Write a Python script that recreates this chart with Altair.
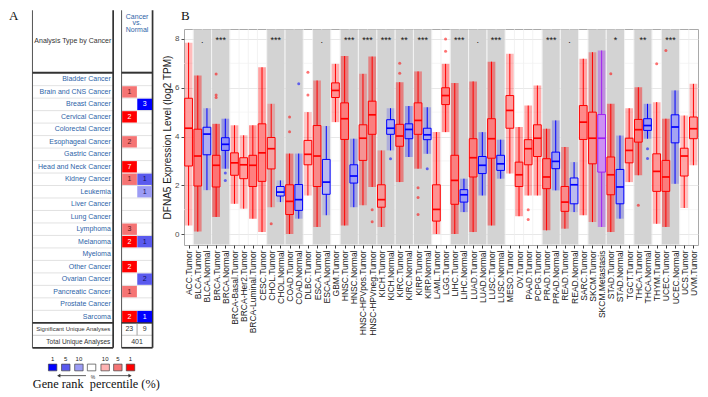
import altair as alt
import pandas as pd

# ======================= Panel A data (Oncomine summary) =======================
cancer_types = [
    "Bladder Cancer", "Brain and CNS Cancer", "Breast Cancer", "Cervical Cancer",
    "Colorectal Cancer", "Esophageal Cancer", "Gastric Cancer", "Head and Neck Cancer",
    "Kidney Cancer", "Leukemia", "Liver Cancer", "Lung Cancer", "Lymphoma", "Melanoma",
    "Myeloma", "Other Cancer", "Ovarian Cancer", "Pancreatic Cancer", "Prostate Cancer",
    "Sarcoma",
]
up_counts = [0, 1, 0, 2, 0, 2, 0, 7, 1, 0, 0, 0, 3, 2, 0, 2, 0, 1, 0, 2]
up_pct = [0, 5, 0, 1, 0, 5, 0, 1, 5, 0, 0, 0, 5, 1, 0, 1, 0, 5, 0, 1]
down_counts = [0, 0, 3, 0, 0, 0, 0, 0, 1, 1, 0, 0, 0, 1, 0, 0, 2, 0, 0, 1]
down_pct = [0, 0, 1, 0, 0, 0, 0, 0, 5, 10, 0, 0, 0, 5, 0, 0, 5, 0, 0, 1]
significant = [23, 9]
total_analyses = 401
legend_labels = ["1", "5", "10", "", "10", "5", "1"]
legend_keys = ["down-1", "down-5", "down-10", "none", "up-10", "up-5", "up-1"]

# ======================= Panel B data (TIMER DFNA5) =======================
groups = [
    "ACC.Tumor", "BLCA.Tumor", "BLCA.Normal", "BRCA.Tumor", "BRCA.Normal",
    "BRCA-Basal.Tumor", "BRCA-Her2.Tumor", "BRCA-Luminal.Tumor", "CESC.Tumor",
    "CHOL.Tumor", "CHOL.Normal", "COAD.Tumor", "COAD.Normal", "DLBC.Tumor",
    "ESCA.Tumor", "ESCA.Normal", "GBM.Tumor", "HNSC.Tumor", "HNSC.Normal",
    "HNSC-HPVpos.Tumor", "HNSC-HPVneg.Tumor", "KICH.Tumor", "KICH.Normal",
    "KIRC.Tumor", "KIRC.Normal", "KIRP.Tumor", "KIRP.Normal", "LAML.Tumor",
    "LGG.Tumor", "LIHC.Tumor", "LIHC.Normal", "LUAD.Tumor", "LUAD.Normal",
    "LUSC.Tumor", "LUSC.Normal", "MESO.Tumor", "OV.Tumor", "PAAD.Tumor",
    "PCPG.Tumor", "PRAD.Tumor", "PRAD.Normal", "READ.Tumor", "READ.Normal",
    "SARC.Tumor", "SKCM.Tumor", "SKCM.Metastasis", "STAD.Tumor", "STAD.Normal",
    "TGCT.Tumor", "THCA.Tumor", "THCA.Normal", "THYM.Tumor", "UCEC.Tumor",
    "UCEC.Normal", "UCS.Tumor", "UVM.Tumor",
]
whisker_low = [0.35, 0.1, 1.8, 0.7, 2.68, 1.24, 1.04, 0.63, 0.08, 1.1, 1.31, 0.0, 0.63, 1.58,
               0.29, 0.77, 4.59, 0.35, 1.1, 1.18, 1.93, 0.29, 3.43, 2.13, 3.16, 2.68, 3.29,
               0.0, 4.18, 0.0, 0.9, 0.08, 1.58, 0.35, 2.27, 2.48, 0.73, 1.58, 1.58, 0.15,
               1.79, 0.22, 0.9, 0.77, 0.49, 0.29, 0.08, 0.63, 2.13, 2.41, 3.91, 0.42, 0.29,
               2.06, 1.07, 2.82]
q1 = [2.79, 1.97, 3.25, 1.93, 3.43, 2.41, 2.27, 1.95, 2.16, 2.67, 1.56, 0.8, 0.97, 2.84,
      1.95, 1.63, 5.6, 3.88, 2.09, 3.02, 4.09, 1.1, 4.09, 3.6, 3.91, 4.09, 3.87, 0.53,
      5.31, 1.22, 1.31, 2.34, 2.48, 3.11, 2.61, 4.34, 1.95, 2.84, 3.18, 1.86, 2.68, 0.93,
      1.24, 3.88, 2.88, 2.54, 1.61, 1.24, 2.92, 3.77, 4.25, 1.75, 1.75, 3.74, 2.38, 3.91]
median = [4.34, 3.2, 4.1, 2.82, 3.68, 2.92, 2.84, 2.82, 3.33, 3.5, 1.72, 1.34, 1.41, 3.27,
          3.2, 2.13, 5.89, 4.73, 2.38, 3.93, 4.89, 1.41, 4.34, 4.02, 4.29, 4.66, 4.07, 1.01,
          5.68, 2.2, 1.61, 3.13, 2.82, 3.91, 2.88, 5.07, 2.43, 3.5, 3.93, 2.34, 2.98, 1.31,
          2.02, 4.59, 3.93, 3.93, 2.43, 1.93, 3.43, 4.28, 4.45, 2.57, 2.34, 4.39, 3.2, 4.32]
q3 = [5.57, 4.3, 4.38, 3.23, 3.95, 3.33, 3.13, 3.23, 4.52, 3.96, 1.95, 2.02, 2.03, 3.84,
      4.45, 3.06, 6.2, 5.38, 2.84, 4.48, 5.45, 2.02, 4.69, 4.5, 4.52, 5.38, 4.34, 2.02,
      6.0, 3.23, 1.82, 3.91, 3.18, 4.73, 3.23, 5.68, 2.95, 3.87, 4.48, 3.09, 3.36, 1.95,
      2.3, 5.27, 5.0, 4.9, 3.16, 2.65, 3.93, 4.7, 4.73, 3.29, 3.02, 4.89, 3.52, 4.8]
whisker_high = [7.85, 6.5, 5.16, 4.52, 4.73, 4.46, 4.05, 4.46, 6.84, 5.34, 2.2, 3.3, 3.3, 5.0,
                6.3, 4.43, 6.98, 7.3, 3.91, 6.57, 7.28, 3.43, 5.16, 6.23, 5.25, 6.67, 5.2,
                4.18, 6.98, 6.19, 2.27, 6.26, 4.18, 7.07, 3.87, 7.39, 4.39, 5.27, 6.09, 4.32,
                4.66, 3.57, 2.95, 7.19, 7.46, 7.53, 5.34, 4.04, 5.16, 6.02, 5.34, 5.41, 4.73,
                5.89, 4.86, 6.16]
n_samples = [79, 408, 19, 1093, 112, 191, 82, 566, 304, 36, 9, 457, 41, 48, 184, 11, 153,
             520, 44, 97, 421, 66, 25, 533, 72, 290, 32, 173, 516, 371, 50, 515, 59, 501,
             51, 87, 303, 178, 179, 497, 52, 166, 10, 259, 103, 368, 415, 35, 150, 501, 59,
             120, 545, 35, 57, 80]
outlier_idx = [3, 3, 3, 4, 4, 9, 11, 11, 12, 13, 13, 20, 20, 22, 23, 23, 25, 25, 25, 26,
               28, 28, 37, 37, 46, 49, 50, 50, 51, 52]
outlier_val = [6.56, 5.7, 5.6, 2.2, 2.5, 0.42, 4.8, 4.2, 6.16, 6.64, 5.7, 0.5, 1.0, 3.09,
               7.0, 6.6, 0.8, 1.5, 1.9, 2.68, 8.0, 7.5, 0.6, 1.0, 6.57, 1.18, 3.1, 3.5,
               6.98, 7.53]
pair_start = [1, 3, 9, 11, 14, 17, 19, 21, 23, 25, 29, 31, 33, 39, 41, 44, 46, 49, 52]
pair_sig = [".", "***", "***", "", ".", "***", "***", "***", "**", "***", "***", ".", "***",
            "***", ".", "", "*", "**", "***"]
minor_grid = [1, 3, 5, 7]
major_ticks = [0, 2, 4, 6, 8]
star_level = 7.97

# ======================= styling constants =======================
SERIF = "Liberation Serif, Times New Roman, serif"
SANS = "Liberation Sans, Arial, Helvetica, sans-serif"
NARROW = "Liberation Sans Narrow, Liberation Sans, Arial, sans-serif"
BLUE_TXT = "#2E64A8"
legend_colors = ["#0000FF", "#5A5AEE", "#9C9CF5", "#FFFFFF", "#FFB3B3", "#F57474", "#FF0000"]

# ======================= Panel A =======================
# panel A is drawn in reference-pixel layout units; its plot origin is aligned with
# panel B's plot top, so the top part lies above the origin
WA, HA = 152, 362
xsA = alt.Scale(domain=[4, 166], nice=False, zero=False)
ysA = alt.Scale(domain=[20, 397], nice=False, zero=False, reverse=True)


def XA(f):
    return alt.X(f"{f}:Q", scale=xsA, axis=None)


def YA(f):
    return alt.Y(f"{f}:Q", scale=ysA, axis=None)


L0, L1 = 29, 115
R0, R1 = 124, 157
ROW0, ROWH = 66, 13
nrows = len(cancer_types)
ROWEND = ROW0 + ROWH * nrows
SIGY = ROWEND + ROWH
BOT = SIGY + ROWH
SPLIT = (R0 + R1) / 2

rules = []


def add_rule(x, x2, y, y2, w, c):
    rules.append(dict(x=x, x2=x2, y=y, y2=y2, w=w, c=c))


for a, b in [(L0, L1), (R0, R1)]:
    for k in range(1, nrows):
        add_rule(a, b, ROW0 + ROWH * k, ROW0 + ROWH * k, 0.7, "#d6d6d6")
    add_rule(a, b, SIGY, SIGY, 0.8, "#bdbdbd")
    add_rule(a, a, 0.5, BOT, 1.0, "#555555")
    add_rule(b, b, 0.5, BOT, 1.7, "#333333")
    add_rule(a, b, BOT, BOT, 1.7, "#333333")
    add_rule(a, b, ROW0 - 0.5, ROW0 - 0.5, 2.0, "#333333")
    add_rule(a, b, ROWEND, ROWEND, 1.7, "#333333")
add_rule(SPLIT, SPLIT, ROWEND, SIGY, 0.8, "#888888")
add_rule(57, 86, 381, 381, 0.8, "#333333")
add_rule(100, 133, 381, 381, 0.8, "#333333")
rules_df = pd.DataFrame(rules)

rule_layer = alt.Chart(rules_df).mark_rule().encode(
    x=XA("x"), x2="x2", y=YA("y"), y2="y2",
    strokeWidth=alt.StrokeWidth("w:Q", scale=None),
    color=alt.Color("c:N", scale=None),
)

cells = []
for i in range(nrows):
    top = ROW0 + ROWH * i
    if up_counts[i]:
        cells.append(dict(x=R0 + 0.6, x2=SPLIT - 0.2, y=top + 0.6, y2=top + ROWH - 0.6,
                          key=f"up-{up_pct[i]}", t=str(up_counts[i]),
                          xc=(R0 + SPLIT) / 2, yc=top + ROWH / 2,
                          tc="#FFFFFF" if up_pct[i] == 1 else "#5a1414"))
    if down_counts[i]:
        cells.append(dict(x=SPLIT + 0.2, x2=R1 - 0.6, y=top + 0.6, y2=top + ROWH - 0.6,
                          key=f"down-{down_pct[i]}", t=str(down_counts[i]),
                          xc=(SPLIT + R1) / 2, yc=top + ROWH / 2,
                          tc="#FFFFFF" if down_pct[i] == 1 else "#14145a"))
cells_df = pd.DataFrame(cells)
color_keys = alt.Scale(domain=legend_keys, range=legend_colors)

cell_layer = alt.Chart(cells_df).mark_rect().encode(
    x=XA("x"), x2="x2", y=YA("y"), y2="y2",
    color=alt.Color("key:N", scale=color_keys, legend=None),
)
cell_text = alt.Chart(cells_df).mark_text(font=SANS, fontSize=7, baseline="middle").encode(
    x=XA("xc"), y=YA("yc"), text="t:N", color=alt.Color("tc:N", scale=None),
)

leg_x0 = [46, 60, 74, 87.5, 102, 115.5, 129]
leg_df = pd.DataFrame({
    "x": leg_x0, "x2": [v + 9 for v in leg_x0], "y": [369] * 7, "y2": [376] * 7,
    "key": legend_keys, "t": legend_labels, "xc": [v + 4.5 for v in leg_x0], "yt": [363.5] * 7,
})
leg_layer = alt.Chart(leg_df).mark_rect(stroke="#444444", strokeWidth=0.7).encode(
    x=XA("x"), x2="x2", y=YA("y"), y2="y2",
    color=alt.Color("key:N", scale=color_keys, legend=None),
)
leg_text = alt.Chart(leg_df).mark_text(font=SANS, fontSize=6, color="#222222",
                                       baseline="middle").encode(
    x=XA("xc"), y=YA("yt"), text="t:N")

arrow_df = pd.DataFrame({"x": [57, 133], "y": [381, 381],
                         "sh": ["triangle-left", "triangle-right"]})
arrow_layer = alt.Chart(arrow_df).mark_point(filled=True, size=14, color="#333333",
                                             opacity=1).encode(
    x=XA("x"), y=YA("y"), shape=alt.Shape("sh:N", scale=None))

names_df = pd.DataFrame({"x": [L1 - 2.5] * nrows,
                         "y": [ROW0 + ROWH * i + ROWH / 2 for i in range(nrows)],
                         "t": cancer_types})
names_layer = alt.Chart(names_df).mark_text(font=NARROW, fontSize=7, align="right",
                                            baseline="middle", color=BLUE_TXT).encode(
    x=XA("x"), y=YA("y"), text="t:N")

right_txt = pd.DataFrame([
    dict(x=L1 - 3, y=ROWEND + ROWH / 2, t="Significant Unique Analyses", s=6.0),
    dict(x=L1 - 3, y=SIGY + ROWH / 2, t="Total Unique Analyses", s=6.5),
])
right_layer = alt.Chart(right_txt).mark_text(font=NARROW, align="right",
                                             baseline="middle", color="#333333").encode(
    x=XA("x"), y=YA("y"), text="t:N", size=alt.Size("s:Q", scale=None))

center_txt = pd.DataFrame([
    dict(x=(L0 + L1) / 2, y=32, t="Analysis Type by Cancer", c="#333333"),
    dict(x=SPLIT, y=7, t="Cancer", c=BLUE_TXT),
    dict(x=SPLIT, y=14, t="vs.", c=BLUE_TXT),
    dict(x=SPLIT, y=21, t="Normal", c=BLUE_TXT),
    dict(x=(R0 + SPLIT) / 2, y=ROWEND + ROWH / 2, t=str(significant[0]), c="#333333"),
    dict(x=(SPLIT + R1) / 2, y=ROWEND + ROWH / 2, t=str(significant[1]), c="#333333"),
    dict(x=SPLIT, y=SIGY + ROWH / 2, t=str(total_analyses), c="#333333"),
])
center_layer = alt.Chart(center_txt).mark_text(font=NARROW, fontSize=7,
                                               baseline="middle").encode(
    x=XA("x"), y=YA("y"), text="t:N", color=alt.Color("c:N", scale=None))

pct_df = pd.DataFrame([dict(x=93.5, y=382.5, t="%")])
pct_layer = alt.Chart(pct_df).mark_text(font=SANS, fontSize=5, baseline="middle",
                                        color="#333333").encode(
    x=XA("x"), y=YA("y"), text="t:N")

serif_txt = pd.DataFrame([dict(x=97, y=389.5, t="Gene rank\u00a0 percentile (%)")])
serif_layer = alt.Chart(serif_txt).mark_text(font=SERIF, fontSize=12.3, baseline="middle",
                                             color="#111111").encode(
    x=XA("x"), y=YA("y"), text="t:N")
a_df = pd.DataFrame([dict(x=4, y=0.5, t="A")])
a_layer = alt.Chart(a_df).mark_text(font=SERIF, fontSize=13, align="left", baseline="top",
                                    color="#111111").encode(
    x=XA("x"), y=YA("y"), text="t:N")

panelA = alt.layer(
    rule_layer, cell_layer, cell_text, leg_layer, leg_text, arrow_layer,
    names_layer, right_layer, center_layer, pct_layer, serif_layer, a_layer,
).properties(width=WA, height=HA)

# ======================= Panel B =======================
WB, HB = 514, 216
ymin, ymax = -0.45, 8.41
xsB = alt.Scale(domain=[-0.5, len(groups) - 0.5], nice=False, zero=False)
ysB = alt.Scale(domain=[ymin, ymax], nice=False, zero=False)
step = WB / len(groups)
px_per_unit = HB / (ymax - ymin)

label_expr = "[" + ",".join(f"'{g}'" for g in groups) + "][datum.value]"
x_axis = alt.Axis(values=list(range(len(groups))), labelExpr=label_expr, grid=False,
                  labelAngle=270, labelAlign="right", labelBaseline="middle",
                  labelFontSize=8.5, labelFont=SANS, labelColor="#1a1a1a",
                  labelOverlap=False, labelFlush=False, labelBound=False,
                  labelPadding=2, tickSize=3, tickColor="#333333", domain=False, title=None)
y_axis = alt.Axis(values=major_ticks, grid=True, gridColor="#e2e2e2", gridWidth=0.8,
                  labelFontSize=8, labelFont=SANS, labelColor="#4d4d4d", labelPadding=2,
                  tickSize=3, tickColor="#4d4d4d", domain=False, minExtent=0,
                  title="DFNA5 Expression Level (log2 TPM)", titleFont=SANS,
                  titleFontSize=10, titleFontWeight="normal", titleColor="#1a1a1a",
                  titlePadding=2)


def XB(f):
    return alt.X(f"{f}:Q", scale=xsB, axis=x_axis)


def YB(f):
    return alt.Y(f"{f}:Q", scale=ysB, axis=y_axis)


def grp_of(name):
    if name.endswith("Normal"):
        return "Normal"
    if name.endswith("Metastasis"):
        return "Metastasis"
    return "Tumor"


bx = pd.DataFrame({
    "i": list(range(len(groups))), "name": groups, "lo": whisker_low, "q1": q1,
    "med": median, "q3": q3, "hi": whisker_high, "n": n_samples,
})
bx["grp"] = [grp_of(g) for g in groups]
bx["xl"] = bx["i"] - 0.42
bx["xr"] = bx["i"] + 0.42
bx["n2"] = bx["n"]

color_scale = alt.Scale(domain=["Tumor", "Normal", "Metastasis"],
                        range=["#FF0000", "#0000FF", "#A020F0"])
COL = alt.Color("grp:N", scale=color_scale, legend=None)

whisk = pd.concat([
    pd.DataFrame({"i": bx["i"], "a": bx["q3"], "b": bx["hi"], "grp": bx["grp"]}),
    pd.DataFrame({"i": bx["i"], "a": bx["lo"], "b": bx["q1"], "grp": bx["grp"]}),
])

bands = pd.DataFrame({"s": pair_start, "sig": pair_sig})
bands["x0"] = bands["s"] - 0.5 + 0.06
bands["x1"] = bands["s"] + 1.5 - 0.06
bands["xm"] = bands["s"] + 0.5
bands["ys"] = star_level

vgrid = pd.DataFrame({"b": [k + 0.5 for k in range(len(groups) - 1)]})
hgrid = pd.DataFrame({"v": minor_grid})
outl = pd.DataFrame({"i": outlier_idx, "v": outlier_val})
outl["grp"] = [grp_of(groups[k]) for k in outlier_idx]

vgrid_layer = alt.Chart(vgrid).mark_rule(color="#ececec", strokeWidth=0.7).encode(x=XB("b"))
hgrid_layer = alt.Chart(hgrid).mark_rule(color="#f2f2f2", strokeWidth=0.7).encode(y=YB("v"))
band_layer = alt.Chart(bands).mark_rect(color="#d3d3d3").encode(
    x=XB("x0"), x2="x1", y=alt.value(0.5), y2=alt.value(HB - 0.5))
cloud_layer = alt.Chart(bx).mark_rect().encode(
    x=XB("xl"), x2="xr", y=YB("lo"), y2="hi", color=COL,
    opacity=alt.Opacity("n:Q", scale=alt.Scale(type="log", domain=[9, 1100],
                                                range=[0.1, 0.46]), legend=None))
under_layer = alt.Chart(bx).mark_rect().encode(
    x=XB("xl"), x2="xr", y=YB("q1"), y2="q3", color=COL,
    opacity=alt.Opacity("n2:Q", scale=alt.Scale(type="log", domain=[9, 1100],
                                                 range=[0.25, 0.85]), legend=None))
white_layer = alt.Chart(bx).mark_rect(color="#FFFFFF", opacity=0.42).encode(
    x=XB("xl"), x2="xr", y=YB("q1"), y2="q3")
whisk_layer = alt.Chart(whisk).mark_rule(strokeWidth=1).encode(
    x=XB("i"), y=YB("a"), y2="b", color=COL)
box_layer = alt.Chart(bx).mark_rect(fillOpacity=0, strokeWidth=1).encode(
    x=XB("xl"), x2="xr", y=YB("q1"), y2="q3",
    stroke=alt.Stroke("grp:N", scale=color_scale, legend=None))
med_layer = alt.Chart(bx).mark_rule(strokeWidth=1.7).encode(
    x=XB("xl"), x2="xr", y=YB("med"), color=COL)
out_layer = alt.Chart(outl).mark_circle(size=9, opacity=0.55).encode(
    x=XB("i"), y=YB("v"), color=COL)
star_layer = alt.Chart(bands).mark_text(font=SANS, fontSize=9, baseline="middle",
                                        color="#111111").encode(
    x=XB("xm"), y=YB("ys"), text="sig:N")
b_df = pd.DataFrame([dict(x=-0.5 - 3 / step, y=ymax + 19 / px_per_unit, t="B")])
b_layer = alt.Chart(b_df).mark_text(font=SERIF, fontSize=13, align="left", baseline="top",
                                    color="#111111").encode(
    x=XB("x"), y=YB("y"), text="t:N")

panelB = alt.layer(
    vgrid_layer, hgrid_layer, band_layer, cloud_layer, under_layer, white_layer,
    whisk_layer, box_layer, med_layer, out_layer, star_layer, b_layer,
).resolve_scale(opacity="independent").properties(
    width=WB, height=HB, view=alt.ViewBackground(stroke="#a9a9a9", strokeWidth=1))

chart = alt.hconcat(panelA, panelB, spacing=0).resolve_scale(
    color="independent", opacity="independent", shape="independent",
    strokeWidth="independent", stroke="independent", size="independent",
).properties(padding=0).configure_view(stroke="transparent")

chart.save("out.html", embed_options={"renderer": "svg", "actions": False})
